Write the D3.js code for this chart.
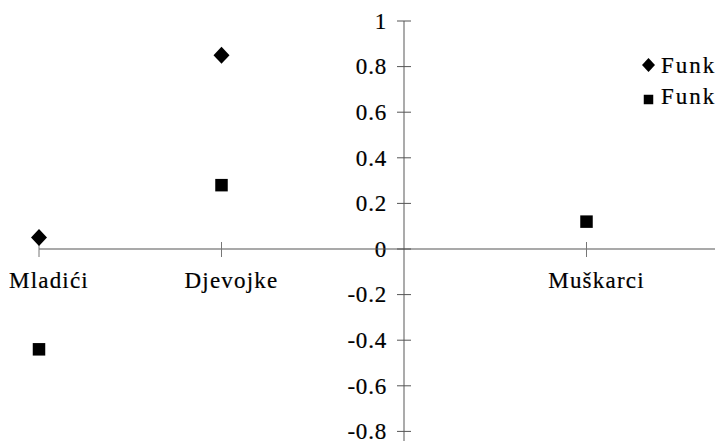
<!DOCTYPE html>
<html><head><meta charset="utf-8">
<script src="https://cdn.jsdelivr.net/npm/d3@7"></script>
<style>html,body{margin:0;padding:0;background:#fff;overflow:hidden}
text{font-family:"Liberation Serif","Times New Roman",serif;fill:#000;stroke:#000;stroke-width:0.2px}</style>
</head><body>
<svg id="c" width="715" height="441"></svg>
<script>
const categories = ["Mladići", "Djevojke", "", "Muškarci"];
const series1Name = "Funkcija 1";
const series2Name = "Funkcija 2";
const series1 = [0.05, 0.85, null, null];
const series2 = [-0.44, 0.28, null, 0.12];
const yTicks = [1, 0.8, 0.6, 0.4, 0.2, 0, -0.2, -0.4, -0.6, -0.8];

const svg = d3.select("#c");
const x = d3.scalePoint().domain(categories).range([39, 586.5]);
const y = d3.scaleLinear().domain([-0.8, 1]).range([431.4, 21]);

// y axis (at the third category position)
const yAxisX = x("");
svg.append("line").attr("x1", yAxisX).attr("x2", yAxisX).attr("y1", y(1)).attr("y2", 441)
  .attr("stroke", "#ababab").attr("stroke-width", 2);
const yt = svg.append("g");
yTicks.forEach(v => {
  yt.append("line").attr("x1", yAxisX - 7).attr("x2", yAxisX + 7).attr("y1", y(v)).attr("y2", y(v))
    .attr("stroke", "#555").attr("stroke-width", 1);
  yt.append("text").attr("x", yAxisX - 17).attr("y", y(v)).attr("dy", "0.34em")
    .attr("text-anchor", "end").attr("font-size", 23)
    .attr("letter-spacing", 0.8).text(String(v));
});

// x axis
svg.append("line").attr("x1", x(categories[0])).attr("x2", 715).attr("y1", y(0)).attr("y2", y(0))
  .attr("stroke", "#555").attr("stroke-width", 1.2);
categories.forEach(c => {
  if (c === "") return;
  svg.append("line").attr("x1", x(c)).attr("x2", x(c)).attr("y1", y(0) - 7).attr("y2", y(0) + 8)
    .attr("stroke", "#777").attr("stroke-width", 1);
  svg.append("text").attr("x", x(c) + 10).attr("y", 288).attr("text-anchor", "middle")
    .attr("font-size", 23).attr("letter-spacing", 1.2).text(c);
});

function diamond(w, h) { return `M0,${-h/2}L${w/2},0L0,${h/2}L${-w/2},0Z`; }
function square(s) { return `M${-s/2},${-s/2}h${s}v${s}h${-s}Z`; }

series1.forEach((v, i) => {
  if (v == null) return;
  svg.append("path").attr("d", diamond(16, 17)).attr("fill", "#000")
    .attr("transform", `translate(${x(categories[i])},${y(v)})`);
});
series2.forEach((v, i) => {
  if (v == null) return;
  svg.append("path").attr("d", square(12.5)).attr("fill", "#000")
    .attr("transform", `translate(${x(categories[i])},${y(v)})`);
});

// legend
const lg = svg.append("g");
lg.append("path").attr("d", diamond(13, 14)).attr("fill", "#000").attr("transform", "translate(648.5,65)");
lg.append("text").attr("x", 661).attr("y", 73).attr("font-size", 23)
  .attr("letter-spacing", 2).text(series1Name);
lg.append("path").attr("d", square(9.5)).attr("fill", "#000").attr("transform", "translate(648.5,99.5)");
lg.append("text").attr("x", 661).attr("y", 104).attr("font-size", 23)
  .attr("letter-spacing", 2).text(series2Name);
</script>
</body></html>
